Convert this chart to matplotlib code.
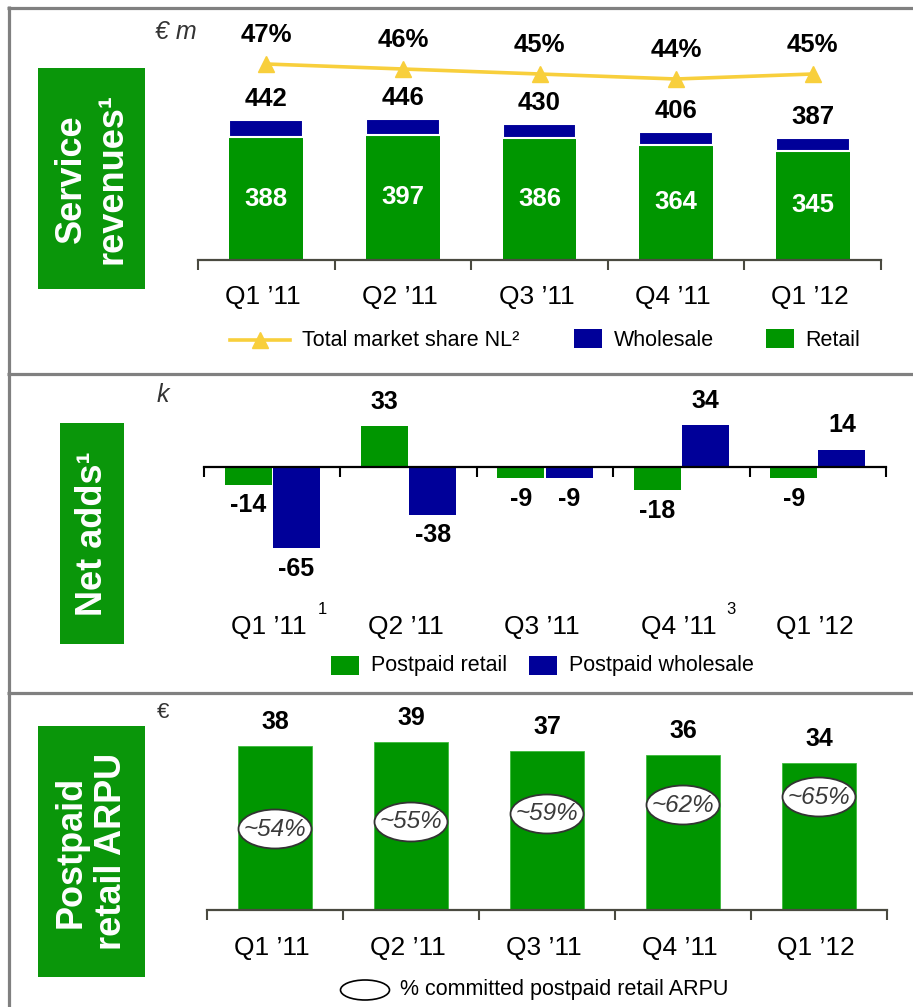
import matplotlib
matplotlib.use('Agg')
import matplotlib.pyplot as plt
from matplotlib.patches import Rectangle, Ellipse
from matplotlib.lines import Line2D

plt.rcParams['font.family'] = ['Liberation Sans', 'DejaVu Sans']

# ---------------- data ----------------
quarters = ["Q1 ’11", "Q2 ’11", "Q3 ’11", "Q4 ’11", "Q1 ’12"]
service_total = [442, 446, 430, 406, 387]
service_retail = [388, 397, 386, 364, 345]
market_share = [47, 46, 45, 44, 45]
netadds_retail = [-14, 33, -9, -18, -9]
netadds_wholesale = [-65, -38, -9, 34, 14]
netadds_footnotes = ["1", "", "", "3", ""]
arpu = [38, 39, 37, 36, 34]
committed_share = ["~54%", "~55%", "~59%", "~62%", "~65%"]

# ---------------- style ----------------
GREEN = '#009600'
BOX_GREEN = '#0A960A'
NAVY = '#000099'
YELLOW = '#F8CF3C'
FRAME = '#808080'
AXIS = '#4A4A40'
DARK = '#333333'
W, H = 913, 1007
CAT_FS = 19
LEG_FS = 15.5

fig = plt.figure(figsize=(W / 100, H / 100), dpi=100)

# overlay in pixel coordinates
ov = fig.add_axes([0, 0, 1, 1], zorder=0)
ov.set_xlim(0, W)
ov.set_ylim(H, 0)
ov.axis('off')


def add_ax(x0, y0, x1, y1):
    a = fig.add_axes([x0 / W, 1 - y1 / H, (x1 - x0) / W, (y1 - y0) / H], zorder=2)
    a.patch.set_visible(False)
    for s in ['left', 'right', 'top']:
        a.spines[s].set_visible(False)
    a.yaxis.set_visible(False)
    a.set_xlim(-0.5, len(quarters) - 0.5)
    a.set_xticks([i - 0.5 for i in range(len(quarters) + 1)])
    a.tick_params(axis='x', direction='out', length=7.5, width=1.5, labelbottom=False)
    return a


x = list(range(len(quarters)))

# ---------------- frame ----------------
ov.plot([8.5, 8.5], [6, H], color=FRAME, lw=2.3, solid_capstyle='butt')
ov.plot([7, W], [7.5, 7.5], color=FRAME, lw=2.3, solid_capstyle='butt')
ov.plot([7, W], [373.5, 373.5], color=FRAME, lw=2.3, solid_capstyle='butt')
ov.plot([7, W], [693, 693], color=FRAME, lw=2.3, solid_capstyle='butt')

# ---------------- side boxes ----------------
def side_box(x0, y0, x1, y1, text):
    ov.add_patch(Rectangle((x0, y0), x1 - x0, y1 - y0, facecolor=BOX_GREEN, edgecolor='none'))
    ov.text((x0 + x1) / 2, (y0 + y1) / 2, text, rotation=90, color='white', fontsize=26,
            fontweight='bold', ha='center', va='center', multialignment='center', linespacing=1.2)

side_box(38, 68, 145, 289, "Service\nrevenues¹")
side_box(60, 423, 124, 644, "Net adds¹")
side_box(38, 726, 145, 977, "Postpaid\nretail ARPU")

# ---------------- panel 1: service revenues ----------------
ax1 = add_ax(198, 10, 881, 260)
s1 = 0.316  # px per unit
ax1.set_ylim(0, 250 / s1)
ax1.spines['bottom'].set_color(AXIS)
ax1.spines['bottom'].set_linewidth(1.6)
ax1.tick_params(axis='x', color=AXIS)
wholesale = [t - r for t, r in zip(service_total, service_retail)]
ax1.bar(x, service_retail, width=0.54, color=GREEN, edgecolor='none', zorder=2)
ax1.bar(x, wholesale, bottom=service_retail, width=0.54, color=NAVY,
        edgecolor='white', linewidth=1.5, zorder=3)
for i in x:
    ax1.annotate(str(service_total[i]), (i, service_total[i]), xytext=(0, 21),
                 textcoords='offset pixels', ha='center', va='center',
                 fontsize=18.5, fontweight='bold', color='black')
    ax1.annotate(str(service_retail[i]), (i, service_retail[i] / 2), xytext=(0, 0),
                 textcoords='offset pixels', ha='center', va='center',
                 fontsize=18.5, fontweight='bold', color='white', zorder=5)
    ax1.annotate(quarters[i], (i, 0), xytext=(-3, -37), textcoords='offset pixels',
                 ha='center', va='center', fontsize=CAT_FS, color='black')

ax1b = ax1.twinx()
ax1b.patch.set_visible(False)
for s in ax1b.spines.values():
    s.set_visible(False)
ax1b.yaxis.set_visible(False)
ax1b.set_ylim(47 - 196 / 5, 47 + 54 / 5)
ax1b.plot(x, market_share, color=YELLOW, lw=2.6, marker='^', markersize=11,
          markeredgecolor=YELLOW, markerfacecolor=YELLOW, zorder=4)
for i in x:
    ax1b.annotate(f"{market_share[i]}%", (i, market_share[i]), xytext=(0, 29),
                  textcoords='offset pixels', ha='center', va='center',
                  fontsize=18.5, fontweight='bold', color='black')

ov.text(155, 32, "€ m", fontsize=18, fontstyle='italic', color=DARK, ha='left', va='center')

# legend 1
ov.add_line(Line2D([230, 290], [340, 340], color=YELLOW, lw=2.6))
ov.plot([260], [340], marker='^', markersize=11, color=YELLOW)
ov.text(302, 340, "Total market share NL²", fontsize=LEG_FS, ha='left', va='center')
ov.add_patch(Rectangle((574, 329), 28, 19, facecolor=NAVY, edgecolor='none'))
ov.text(614, 340, "Wholesale", fontsize=LEG_FS, ha='left', va='center')
ov.add_patch(Rectangle((766, 329), 28, 19, facecolor=GREEN, edgecolor='none'))
ov.text(805, 340, "Retail", fontsize=LEG_FS, ha='left', va='center')

# ---------------- panel 2: net adds ----------------
ax2 = add_ax(204, 380, 886, 590)
s2 = 1.25
ax2.set_ylim(-123 / s2, 87 / s2)
ax2.spines['bottom'].set_position(('data', 0))
ax2.spines['bottom'].set_color('black')
ax2.spines['bottom'].set_linewidth(1.6)
ax2.tick_params(axis='x', color='black')
off = 0.177
bw = 0.345
ax2.bar([i - off for i in x], netadds_retail, width=bw, color=GREEN, edgecolor='none', zorder=2)
ax2.bar([i + off for i in x], netadds_wholesale, width=bw, color=NAVY, edgecolor='none', zorder=2)
for i in x:
    for xi, v in ((i - off, netadds_retail[i]), (i + off, netadds_wholesale[i])):
        dy = 24 if v > 0 else -21
        ax2.annotate(str(v), (xi, v), xytext=(0, dy), textcoords='offset pixels',
                     ha='center', va='center', fontsize=18, fontweight='bold', color='black')
    ax2.annotate(quarters[i], (i, 0), xytext=(-3, -160), textcoords='offset pixels',
                 ha='center', va='center', fontsize=CAT_FS, color='black')
    if netadds_footnotes[i]:
        ax2.annotate(netadds_footnotes[i], (i, 0), xytext=(50, -143), textcoords='offset pixels',
                     ha='center', va='center', fontsize=12, color='black')

ov.text(157, 395, "k", fontsize=18, fontstyle='italic', color=DARK, ha='left', va='center')

ov.add_patch(Rectangle((331, 656), 28, 19, facecolor=GREEN, edgecolor='none'))
ov.text(371, 666, "Postpaid retail", fontsize=LEG_FS, ha='left', va='center')
ov.add_patch(Rectangle((529, 656), 28, 19, facecolor=NAVY, edgecolor='none'))
ov.text(569, 666, "Postpaid wholesale", fontsize=LEG_FS, ha='left', va='center')

# ---------------- panel 3: ARPU ----------------
ax3 = add_ax(207, 700, 887, 910)
s3 = 4.31
ax3.set_ylim(0, 210 / s3)
ax3.spines['bottom'].set_color(AXIS)
ax3.spines['bottom'].set_linewidth(1.6)
ax3.tick_params(axis='x', color=AXIS)
ax3.bar(x, arpu, width=0.54, color=GREEN, edgecolor='#3DBB3D', linewidth=0.6, zorder=2)
ellipse_px = [81, 88, 96, 105, 113]  # ellipse centre heights above baseline (px)
for i in x:
    ax3.annotate(str(arpu[i]), (i, arpu[i]), xytext=(0, 24), textcoords='offset pixels',
                 ha='center', va='center', fontsize=18, fontweight='bold', color='black')
    ey = ellipse_px[i] / s3
    ax3.add_patch(Ellipse((i, ey), 73 / 136, 39 / s3, facecolor='white',
                          edgecolor='#333333', linewidth=1.3, zorder=4))
    ax3.text(i, ey, committed_share[i], ha='center', va='center', fontsize=17.5,
             fontstyle='italic', color='#3A3A3A', zorder=5)
    ax3.annotate(quarters[i], (i, 0), xytext=(-3, -38), textcoords='offset pixels',
                 ha='center', va='center', fontsize=CAT_FS, color='black')

ov.text(157, 712, "€", fontsize=16, color=DARK, ha='left', va='center')

ov.add_patch(Ellipse((365, 990), 49, 20, facecolor='white', edgecolor='black', linewidth=1.2))
ov.text(400, 990, "% committed postpaid retail ARPU", fontsize=LEG_FS, ha='left', va='center')

fig.savefig('out.png', dpi=100)
